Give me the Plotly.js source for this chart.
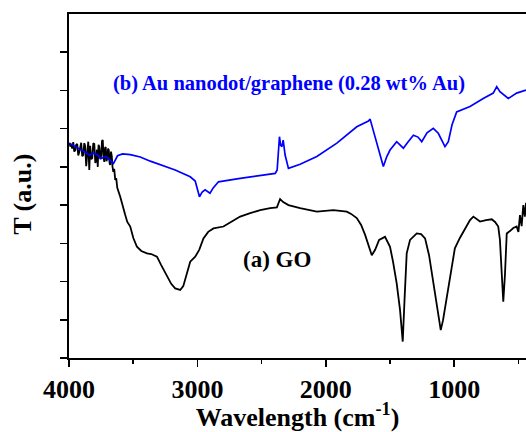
<!DOCTYPE html>
<html>
<head>
<meta charset="utf-8">
<script src="https://cdn.plot.ly/plotly-3.0.1.min.js"></script>
<style>html,body{margin:0;padding:0;background:#fff;}#chart{width:526px;height:432px;}</style>
</head>
<body>
<div id="chart"></div>
<script>
// Wavenumber (cm^-1) and transmittance (arbitrary units)
const goWavenumber = [3998,3990,3982,3975,3967,3959,3951,3944,3936,3928,3920,3912,3905,3897,3889,3881,3874,3866,3858,3850,3842,3835,3827,3819,3811,3803,3795,3788,3782,3776,3770,3764,3756,3749,3743,3737,3731,3725,3719,3714,3708,3702,3696,3690,3684,3679,3673,3667,3661,3655,3648,3640,3632,3624,3601,3585,3562,3546,3523,3499,3471,3437,3393,3360,3315,3282,3237,3204,3173,3134,3110,3095,3056,3017,2986,2953,2916,2875,2797,2729,2667,2589,2511,2434,2381,2356,2332,2291,2200,2070,1941,1837,1803,1759,1725,1694,1671,1642,1616,1585,1539,1500,1476,1448,1422,1401,1387,1370,1344,1292,1258,1227,1196,1163,1134,1105,1087,1058,1033,995,956,917,877,851,799,752,708,682,657,644,632,618,605,591,566,540,514,500,488,475,462,450,441];
const goT = [5.63,5.55,5.57,5.48,5.65,5.40,5.44,5.58,5.60,5.30,5.39,5.56,5.63,5.28,5.31,5.62,5.55,5.02,5.49,5.66,4.92,5.55,5.20,5.23,5.62,5.60,5.10,5.18,5.45,5.00,5.58,5.52,5.20,5.29,5.68,5.70,5.25,5.13,5.50,5.52,5.15,5.23,5.48,5.44,5.10,5.05,5.40,5.29,5.00,4.87,4.95,4.66,4.70,4.45,4.22,4.00,3.74,3.56,3.44,3.14,2.91,2.80,2.74,2.72,2.65,2.43,2.13,1.94,1.82,1.78,1.88,2.04,2.52,2.65,2.83,3.13,3.30,3.39,3.44,3.58,3.70,3.79,3.87,3.92,3.94,4.16,4.08,4.00,3.92,3.83,3.87,3.83,3.77,3.66,3.48,3.22,2.96,2.69,2.83,3.09,3.17,2.91,2.51,1.95,1.26,0.43,1.52,2.74,3.09,3.26,3.24,3.13,2.69,1.95,1.26,0.73,0.99,1.60,2.17,2.87,3.14,3.39,3.61,3.70,3.57,3.61,3.63,3.56,3.44,3.09,2.30,1.47,2.17,3.26,3.32,3.40,3.44,3.30,3.74,3.45,4.00,3.70,4.06];

const auWavenumber = [3998,3943,3881,3842,3811,3777,3751,3712,3686,3653,3622,3583,3523,3445,3367,3289,3173,3056,3017,2984,2963,2940,2902,2877,2836,2667,2511,2394,2379,2361,2352,2342,2332,2317,2291,2200,2070,1914,1759,1717,1668,1655,1642,1609,1577,1552,1525,1500,1448,1396,1360,1318,1282,1253,1212,1163,1124,1095,1072,1046,1017,981,932,877,774,696,669,644,579,514,441];
const auT = [5.62,5.52,5.40,5.31,5.36,5.31,5.22,5.27,5.18,5.09,5.29,5.34,5.32,5.26,5.15,5.05,4.92,4.74,4.63,4.22,4.34,4.40,4.31,4.45,4.61,4.70,4.78,4.83,4.92,5.79,5.57,5.53,5.70,5.31,4.96,5.07,5.27,5.62,6.05,6.12,6.20,6.25,6.10,5.70,5.31,5.01,5.27,5.44,5.66,5.49,5.65,5.83,5.78,5.66,5.89,6.01,5.88,5.70,5.53,5.66,6.10,6.44,6.51,6.58,6.79,6.93,7.10,6.97,6.79,6.93,7.01];

const xTickVals = [4000,3000,2000,1000];
const xTickText = ['4000','3000','2000','1000'];
const yTickVals = [0,1,2,3,4,5,6,7,8];
const labelA = '(a) GO';
const labelB = '(b) Au nanodot/graphene (0.28 wt% Au)';
const yTitle = 'T (a.u.)';
const xTitle = 'Wavelength (cm<sup>-1</sup>)';

const serif = 'Liberation Serif';

const traces = [
  {x: goWavenumber, y: goT, type: 'scatter', mode: 'lines', line: {color: '#000000', width: 1.8}, hoverinfo: 'skip'},
  {x: auWavenumber, y: auT, type: 'scatter', mode: 'lines', line: {color: '#0000ff', width: 1.7}, hoverinfo: 'skip'}
];

const layout = {
  width: 526, height: 432,
  margin: {l: 69, r: 0, t: 14, b: 74},
  paper_bgcolor: '#ffffff', plot_bgcolor: '#ffffff',
  showlegend: false,
  xaxis: {
    range: [4000, 441],
    tickmode: 'array', tickvals: xTickVals, ticktext: xTickText,
    ticks: 'outside', ticklen: 7, tickwidth: 1.5, tickcolor: '#000',
    minor: {dtick: 500, ticks: 'outside', ticklen: 4, tickwidth: 1.5, tickcolor: '#000'},
    showgrid: false, zeroline: false,
    showline: true, linecolor: '#000', linewidth: 2, mirror: true,
    tickfont: {family: serif, size: 26, color: '#000', weight: 700},
    title: {text: xTitle, font: {family: serif, size: 26, color: '#000', weight: 700}, standoff: 6}
  },
  yaxis: {
    range: [0, 9],
    tickmode: 'array', tickvals: yTickVals,
    ticks: 'outside', ticklen: 7, tickwidth: 1.5, tickcolor: '#000',
    showticklabels: false,
    showgrid: false, zeroline: false,
    showline: true, linecolor: '#000', linewidth: 2
  },
  annotations: [
    {x: -0.101, y: 0.477, xref: 'paper', yref: 'paper', text: yTitle, showarrow: false, textangle: -90,
     xanchor: 'center', yanchor: 'middle',
     font: {family: serif, size: 26, color: '#000', weight: 700}},
    {x: 2379, y: 2.59, xref: 'x', yref: 'y', text: labelA, showarrow: false,
     font: {family: serif, size: 23, color: '#000', weight: 700}},
    {x: 2286, y: 7.17, xref: 'x', yref: 'y', text: labelB, showarrow: false,
     font: {family: serif, size: 20.5, color: '#0000ff', weight: 700}}
  ]
};

Plotly.newPlot('chart', traces, layout, {displayModeBar: false, staticPlot: true});
</script>
</body>
</html>
